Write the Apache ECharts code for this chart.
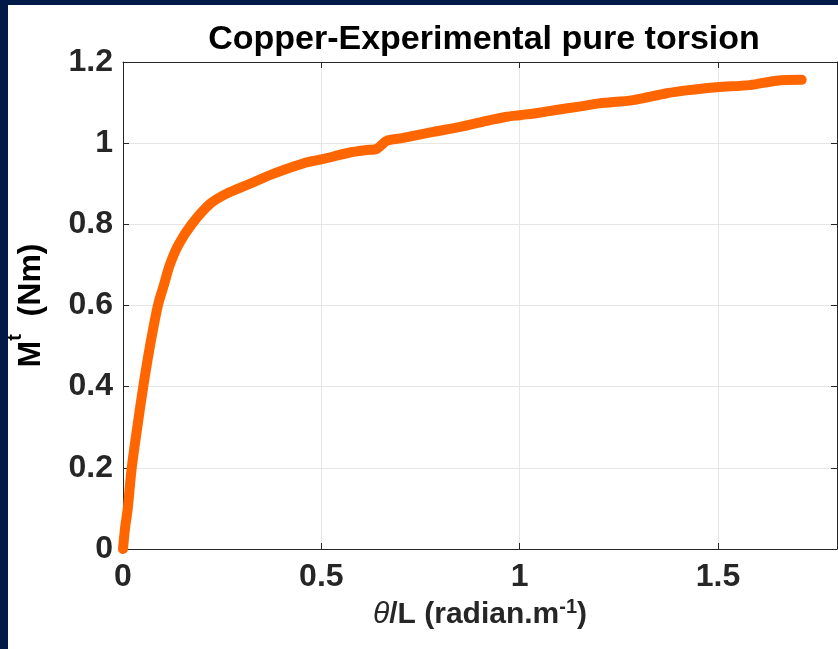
<!DOCTYPE html>
<html>
<head>
<meta charset="utf-8">
<script src="https://cdn.jsdelivr.net/npm/echarts@6/dist/echarts.min.js"></script>
<style>
  html, body { margin: 0; padding: 0; background: #011a47; width: 838px; height: 649px; overflow: hidden; }
  #chart { position: absolute; left: 8px; top: 5px; width: 830px; height: 644px; background: #fff; }
</style>
</head>
<body>
<div id="chart"></div>
<script>
// 曲线数据
const thetaL = [0, 0.005, 0.012, 0.022, 0.036, 0.051, 0.068, 0.088, 0.103, 0.118, 0.14, 0.173, 0.219, 0.26, 0.32, 0.38, 0.454, 0.5, 0.53, 0.572, 0.614, 0.64, 0.665, 0.7, 0.782, 0.85, 0.908, 0.967, 1.0, 1.05, 1.1, 1.15, 1.2, 1.286, 1.371, 1.42, 1.497, 1.58, 1.648, 1.711]
const torque = [0, 0.05, 0.1, 0.2, 0.3, 0.4, 0.5, 0.6, 0.65, 0.7, 0.75, 0.8, 0.85, 0.875, 0.9, 0.925, 0.95, 0.96, 0.967, 0.977, 0.983, 0.986, 1.006, 1.012, 1.028, 1.04, 1.053, 1.065, 1.069, 1.075, 1.083, 1.09, 1.098, 1.106, 1.123, 1.13, 1.138, 1.143, 1.154, 1.156]
const xTicks = [0, 0.5, 1, 1.5]
const yTicks = [0, 0.2, 0.4, 0.6, 0.8, 1, 1.2]

const FONT = "'Liberation Sans', Arial, Helvetica, sans-serif"
const AXIS_COLOR = '#262626'
const GRID_COLOR = '#e6e6e6'

const myChart = echarts.init(document.getElementById('chart'))

// 公共轴样式
const boxAxis = (extra) => Object.assign({
  type: 'value',
  axisLine: { show: true, onZero: false, lineStyle: { color: AXIS_COLOR, width: 1 } },
  axisTick: { show: true, inside: true, length: 6, lineStyle: { color: AXIS_COLOR } },
  splitLine: { show: false }
}, extra)

const options = {
  animation: false,
  title: {
    text: 'Copper-Experimental pure torsion',
    left: 471,
    top: 13,
    textAlign: 'center',
    textStyle: { fontFamily: FONT, fontSize: 34, fontWeight: 'bold', color: '#000' }
  },
  grid: { left: 115, right: 1, top: 57, bottom: 100, containLabel: false, outerBoundsMode: 'none' },
  xAxis: [
    boxAxis({
      min: 0, max: 1.8, interval: 0.5,
      position: 'bottom',
      axisLabel: {
        margin: 12, showMaxLabel: false,
        fontFamily: FONT, fontSize: 32, fontWeight: 'bold', color: AXIS_COLOR,
        formatter: (v) => xTicks.includes(v) ? String(v) : ''
      },
      splitLine: { show: true, lineStyle: { color: GRID_COLOR, width: 1 } },
      name: '{th|θ}{b|/L (radian.m}{sup|-1}{b|)}',
      nameLocation: 'middle',
      nameGap: 44,
      nameTextStyle: {
        rich: {
          th: { fontFamily: FONT, fontSize: 30, fontStyle: 'italic', color: AXIS_COLOR, lineHeight: 34 },
          b: { fontFamily: FONT, fontSize: 30, fontWeight: 'bold', color: AXIS_COLOR, lineHeight: 34 },
          sup: { fontFamily: FONT, fontSize: 20, fontWeight: 'bold', color: AXIS_COLOR, verticalAlign: 'top', lineHeight: 34, padding: [0, 0, 14, 0] }
        }
      }
    }),
    boxAxis({ min: 0, max: 1.8, interval: 0.5, position: 'top', axisLabel: { show: false } })
  ],
  yAxis: [
    boxAxis({
      min: 0, max: 1.2, interval: 0.2,
      position: 'left',
      axisLabel: {
        margin: 10,
        fontFamily: FONT, fontSize: 32, fontWeight: 'bold', color: AXIS_COLOR,
        formatter: (v) => {
          const t = yTicks.find(k => Math.abs(k - v) < 1e-9)
          return t === undefined ? '' : String(t)
        }
      },
      splitLine: { show: true, lineStyle: { color: GRID_COLOR, width: 1 } },
      name: '{b|M}{sup|t}{b|  (Nm)}',
      nameLocation: 'middle',
      nameGap: 66,
      nameTextStyle: {
        rich: {
          b: { fontFamily: FONT, fontSize: 32, fontWeight: 'bold', color: '#000', lineHeight: 52 },
          sup: { fontFamily: FONT, fontSize: 20, fontWeight: 'bold', color: '#000', verticalAlign: 'top', lineHeight: 24 }
        }
      }
    }),
    boxAxis({ min: 0, max: 1.2, interval: 0.2, position: 'right', axisLabel: { show: false } })
  ],
  series: [{
    type: 'line',
    data: thetaL.map((x, i) => [x, torque[i]]),
    xAxisIndex: 0,
    yAxisIndex: 0,
    showSymbol: false,
    smooth: 0.3,
    lineStyle: { color: '#ff6600', width: 10, cap: 'round', join: 'round' },
    z: 3
  }]
}

myChart.setOption(options)
</script>
</body>
</html>
